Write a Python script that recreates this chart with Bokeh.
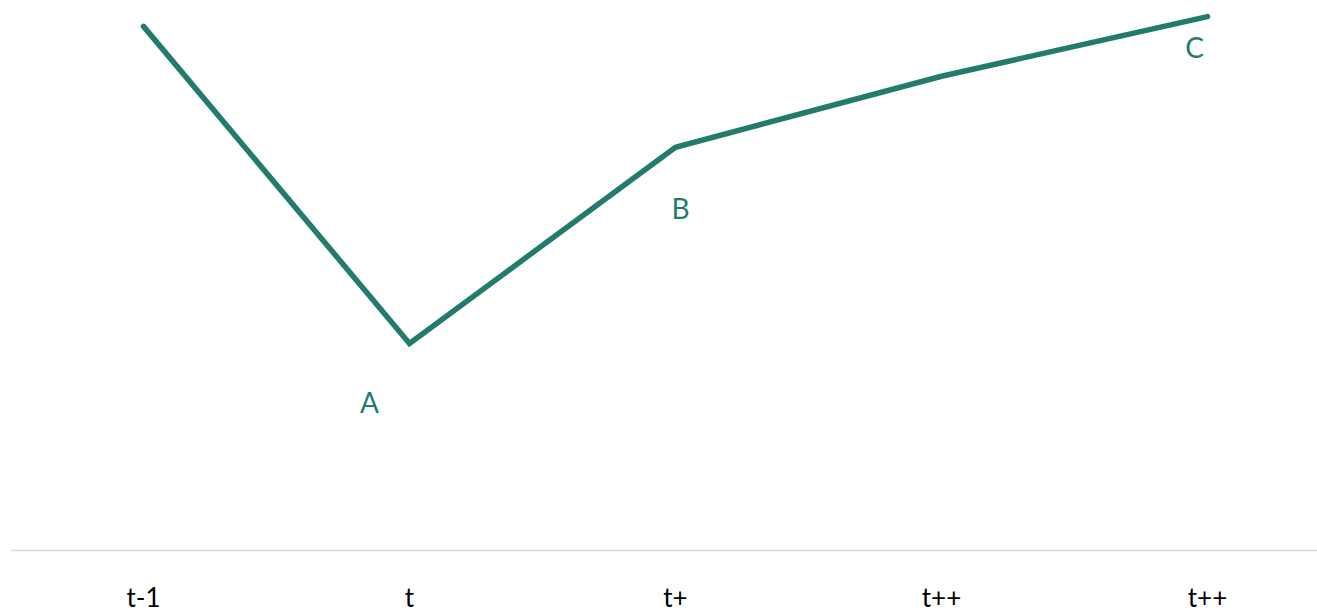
from bokeh.plotting import figure
from bokeh.models import Range1d, ColumnDataSource, FixedTicker
from bokeh.core.properties import value
from bokeh.embed import file_html
from bokeh.resources import INLINE

# ---- data ----
categories = ["t-1", "t", "t+", "t++", "t++"]
series = [96.7, 38.2, 74.4, 87.5, 98.5]
point_labels = ["A", "B", "C"]
label_index = [1, 2, 4]

TEAL = "#237B6E"
FONT = "Lato"

xs = list(range(len(categories)))
frame_w, frame_h = 1307, 542
spacing = 266

p = figure(width=1317, height=612, output_backend="svg", toolbar_location=None,
           x_range=Range1d(-0.5, -0.5 + frame_w / spacing), y_range=Range1d(0, 100),
           frame_width=frame_w, frame_height=frame_h,
           min_border_left=10, min_border_right=0, min_border_top=8, min_border_bottom=0)
p.outline_line_color = None
p.grid.visible = False
p.yaxis.visible = False
p.background_fill_color = "white"
p.border_fill_color = "white"

p.line(xs, series, line_color=TEAL, line_width=5.5, line_cap="round", line_join="miter")

src = ColumnDataSource(dict(
    x=[xs[i] for i in label_index],
    y=[series[i] for i in label_index],
    t=point_labels,
    dx=[-40, 5, -13],
    dy=[59, 61, 30],
))
p.text(x="x", y="y", text="t", x_offset="dx", y_offset="dy", source=src,
       text_color=TEAL, text_font=value(FONT), text_font_size="28px",
       text_align="center", text_baseline="middle")

ax = p.xaxis[0]
ax.ticker = FixedTicker(ticks=xs)
ax.major_label_overrides = {i: c for i, c in enumerate(categories)}
ax.axis_line_color = "#D9D9D9"
ax.axis_line_width = 1.5
ax.major_tick_line_color = None
ax.minor_tick_line_color = None
ax.major_label_standoff = 24
ax.major_label_text_font = FONT
ax.major_label_text_font_size = "26px"
ax.major_label_text_color = "black"

open("out.html", "w").write(file_html(p, INLINE))
